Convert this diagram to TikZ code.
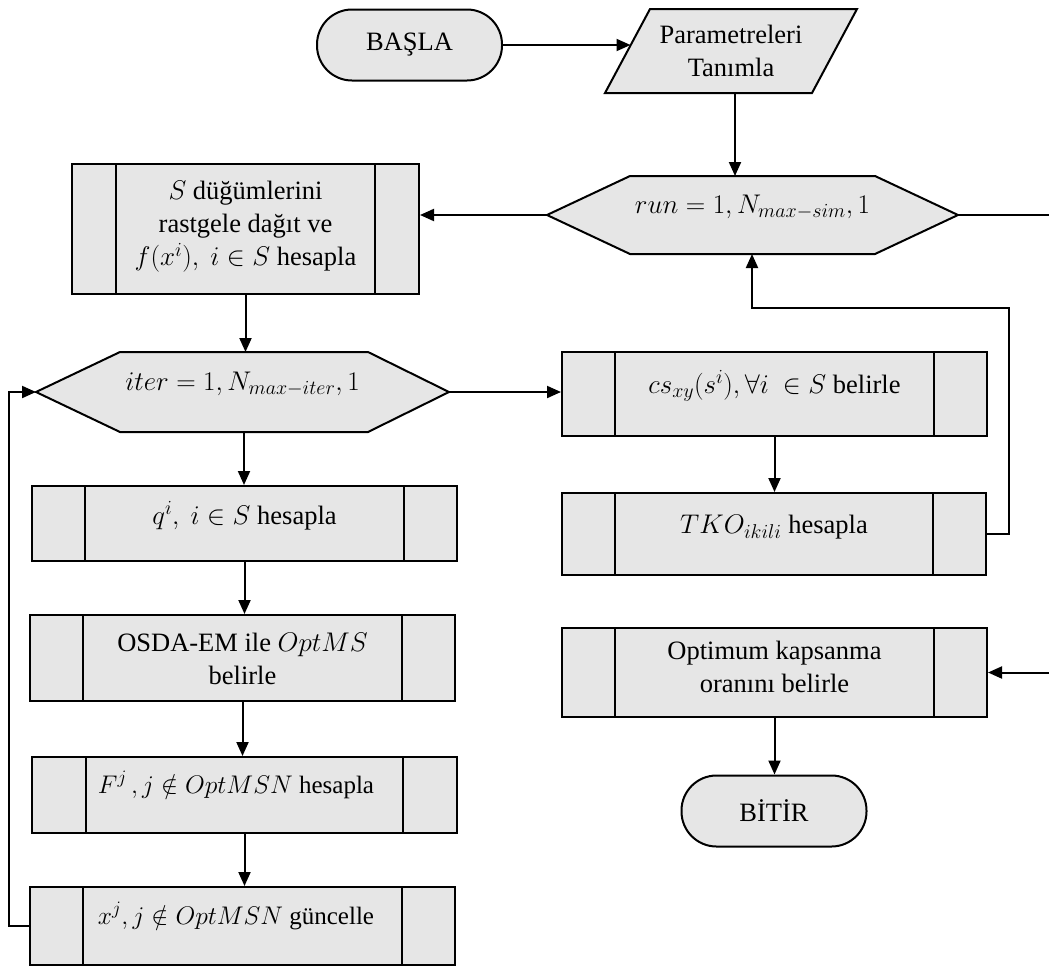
\RequirePackage{fix-cm}
\documentclass[tikz,border=0pt]{standalone}
\usepackage{fontspec}
\setmainfont{Liberation Serif}
\DeclareMathSizes{26.5}{27}{20}{16}
\DeclareMathSizes{25}{25.5}{19}{15}
\usetikzlibrary{arrows.meta,calc}
\definecolor{boxfill}{HTML}{E6E6E6}
\def\procoff{53pt}
\tikzset{
  ln/.style={line width=2pt},
  arr/.style={ln, -{Triangle[length=14pt,width=12pt]}},
  txt/.style={font=\fontsize{26.5}{33}\selectfont, align=center, inner sep=0pt},
  txtsm/.style={font=\fontsize{25}{31}\selectfont, align=center, inner sep=0pt},
  term/.style={draw, ln, fill=boxfill, rounded corners=35pt, minimum width=185pt, minimum height=71pt, txt},
  procoff/.store in=\procoff,
  proc/.style={draw, ln, fill=boxfill, inner sep=0pt,
    path picture={
      \draw[ln] ([xshift=\procoff]path picture bounding box.north west) -- ([xshift=\procoff]path picture bounding box.south west);
      \draw[ln] ([xshift=-\procoff]path picture bounding box.north east) -- ([xshift=-\procoff]path picture bounding box.south east);
    }},
  shapefill/.style={ln, fill=boxfill}
}
\begin{document}
\begin{tikzpicture}[x=1pt,y=-1pt]
\useasboundingbox (0,0) rectangle (1049,967);

% terminals
\node[term] (start) at (409.5,45) {BAŞLA};
\node[term] (stop) at (774,811) {BİTİR};

% parallelogram
\draw[shapefill] (605,93) -- (650,9) -- (857,9) -- (812,93) -- cycle;
\node[txt] (par) at (731,51) {Parametreleri\\Tanımla};
\coordinate (parW) at (630.5,45);
\coordinate (parS) at (735,93);

% run hexagon
\draw[shapefill] (547,215) -- (630,176) -- (875,176) -- (958,215) -- (875,254) -- (630,254) -- cycle;
\coordinate (runW) at (547,215);
\coordinate (runE) at (958,215);
\coordinate (runN) at (735,176);
\coordinate (runS) at (752,254);
\coordinate (runLoop) at (752,308);
\coordinate (offR) at (1065,215);
\node[txt] (run) at (752.5,207) {$run = 1, N_{max-sim}, 1$};

% iter hexagon
\draw[shapefill] (36,392) -- (120,352) -- (368,352) -- (449,392) -- (368,432) -- (120,432) -- cycle;
\coordinate (iterW) at (36,392);
\coordinate (iterE) at (449,392);
\coordinate (iterN) at (245.5,352);
\coordinate (iterS) at (244,432);
\node[txt] (iter) at (242.5,384) {$iter = 1, N_{max-iter}, 1$};

% process boxes, left column
\node[proc, procoff=44pt, minimum width=347pt, minimum height=130pt] (S) at (245.5,229) {};
\node[txt] (St) at (245.5,227) {$S$ düğümlerini\\rastgele dağıt ve\\$f(x^i),\ i\in S$ hesapla};

\node[proc, minimum width=425pt, minimum height=75pt] (q) at (244.5,523.5) {};
\node[txt] (qt) at (244.5,516) {$q^i,\ i\in S$ hesapla};

\node[proc, minimum width=425pt, minimum height=86pt] (osda) at (242.5,658) {};
\node[txt] (osdat) at (242.5,659) {OSDA-EM ile $OptMS$\\belirle};

\node[proc, procoff=54pt, minimum width=425pt, minimum height=76pt] (F) at (244.5,795) {};
\node[txtsm] (Ft) at (236,785) {$F^j\,, j\notin OptMSN$ hesapla};

\node[proc, minimum width=425pt, minimum height=78pt] (xb) at (242.5,926) {};
\node[txtsm] (xt) at (236,916) {$x^j, j\notin OptMSN$ güncelle};

% process boxes, right column
\node[proc, minimum width=425pt, minimum height=84pt] (cs) at (774.5,394) {};
\node[txt] (cst) at (774.5,386) {$cs_{xy}(s^i), \forall i\ \in S$ belirle};

\node[proc, minimum width=424pt, minimum height=82pt] (tko) at (774,534) {};
\node[txt] (tkot) at (774,527) {$TKO_{ikili}$ hesapla};

\node[proc, minimum width=425pt, minimum height=89pt] (opt) at (774.5,672.5) {};
\node[txt] (optt) at (774.5,667) {Optimum kapsanma\\oranını belirle};

% connectors
\draw[arr] (start.east) -- (parW);
\draw[arr] (parS) -- (runN);
\draw[arr] (runW) -- (runW -| S.east);
\draw[arr] (S.south) -- (iterN);
\draw[arr] (iterS) -- (iterS |- q.north);
\draw[arr] (q.south) -- (q.south |- osda.north);
\draw[arr] (osda.south) -- (osda.south |- F.north);
\draw[arr] (F.south) -- (F.south |- xb.north);
\draw[arr] (xb.west) -- ++(-20,0) |- (iterW);
\draw[arr] (iterE) -- (iterE -| cs.west);
\draw[arr] (cs.south) -- (cs.south |- tko.north);
\draw[arr] (tko.east) -- ++(22,0) |- (runLoop) -- (runS);
\draw[arr] (runE) -- (offR) |- (opt.east);
\draw[arr] (opt.south) -- (opt.south |- stop.north);
\end{tikzpicture}
\end{document}
